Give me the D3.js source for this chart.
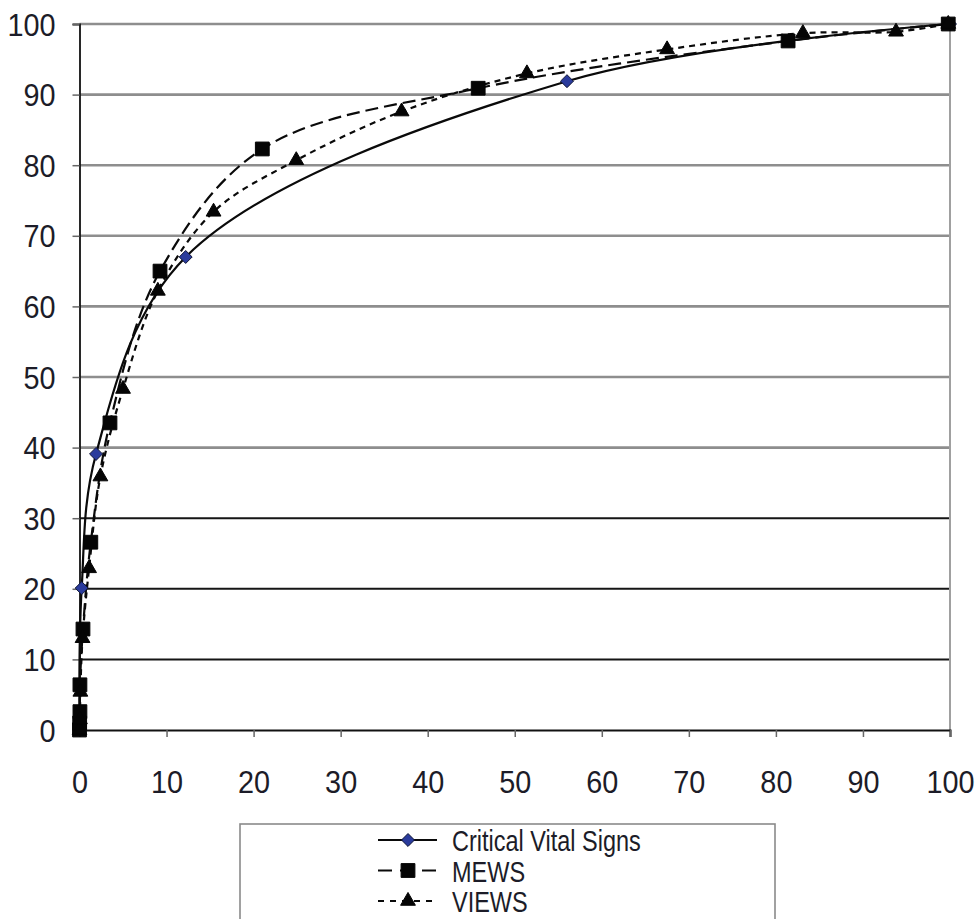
<!DOCTYPE html>
<html>
<head>
<meta charset="utf-8">
<script src="https://cdn.jsdelivr.net/npm/d3@7/dist/d3.min.js"></script>
<style>
  html, body { margin: 0; padding: 0; background: #fff; }
  svg { display: block; }
  text { font-family: "Liberation Sans", Arial, sans-serif; fill: #1c1c28; }
</style>
</head>
<body>
<svg id="chart" width="976" height="919"></svg>
<script>
// Cumulative curves: % of patients (x) vs % of events captured (y)
const cvsX   = [0, 0.25, 1.9, 12.2, 56.0, 100];
const cvsY   = [0, 20.1, 39.1, 67.0, 91.9, 100];

const mewsX  = [0, 0.02, 0.05, 0.05, 0.4, 1.3, 3.5, 9.25, 21.0, 45.8, 81.4, 99.8];
const mewsY  = [0, 1.0, 2.6, 6.4, 14.3, 26.6, 43.5, 65.0, 82.3, 90.9, 97.6, 100];

const viewsX = [0, 0.05, 0.1, 0.35, 1.1, 2.4, 5.0, 9.0, 15.4, 24.9, 37.0, 51.4, 67.5, 83.1, 93.8, 99.8];
const viewsY = [0, 1.5, 5.4, 13.0, 22.9, 35.9, 48.3, 62.2, 73.4, 80.7, 87.6, 93.0, 96.4, 98.7, 98.9, 100];

const xTicks = [0, 10, 20, 30, 40, 50, 60, 70, 80, 90, 100];
const yTicks = [0, 10, 20, 30, 40, 50, 60, 70, 80, 90, 100];

const seriesNames = ["Critical Vital Signs", "MEWS", "VIEWS"];

const svg = d3.select("#chart");
const plotLeft = 79.5, plotRight = 950, plotTop = 24, plotBottom = 730;

const x = d3.scaleLinear().domain([0, 100]).range([plotLeft, plotRight]);
const y = d3.scaleLinear().domain([0, 100]).range([plotBottom, plotTop]);

// horizontal gridlines: upper ones grey, lower ones dark
const grid = svg.append("g");
yTicks.filter(v => v > 0).forEach(v => {
  grid.append("line")
    .attr("x1", plotLeft).attr("x2", plotRight)
    .attr("y1", y(v)).attr("y2", y(v))
    .attr("stroke", v >= 40 ? "#8e8e8e" : "#151515")
    .attr("stroke-width", v >= 40 ? 2.6 : 2);
});

// right border of the plot area
svg.append("line")
  .attr("x1", plotRight).attr("x2", plotRight)
  .attr("y1", plotTop).attr("y2", plotBottom)
  .attr("stroke", "#a0a0a0").attr("stroke-width", 2);

// y axis
const yAxis = svg.append("g")
  .attr("transform", `translate(${plotLeft},0)`)
  .call(d3.axisLeft(y).tickValues(yTicks).tickSize(7).tickFormat(d3.format("d")));
yAxis.select(".domain").attr("stroke", "#111").attr("stroke-width", 1.8);
yAxis.selectAll(".tick line").attr("stroke", "#666").attr("stroke-width", 1.5);
yAxis.selectAll(".tick text")
  .attr("x", null).attr("dy", null)
  .attr("transform", "translate(-24,11) scale(0.93,1)")
  .attr("text-anchor", "end")
  .style("font-size", "31px")
  .style("font-family", "'Liberation Sans', Arial, sans-serif")
  .attr("fill", "#1c1c28");

// x axis
const xAxis = svg.append("g")
  .attr("transform", `translate(0,${plotBottom})`)
  .call(d3.axisBottom(x).tickValues(xTicks).tickSize(7).tickFormat(d3.format("d")));
xAxis.select(".domain").attr("stroke", "#111").attr("stroke-width", 2);
xAxis.selectAll(".tick line").attr("stroke", "#666").attr("stroke-width", 1.5);
xAxis.selectAll(".tick text")
  .attr("y", null).attr("dy", null)
  .attr("transform", "translate(0,63) scale(0.93,1)")
  .attr("text-anchor", "middle")
  .style("font-size", "31px")
  .style("font-family", "'Liberation Sans', Arial, sans-serif")
  .attr("fill", "#1c1c28");

// square-on-point diamond marker
const rhombus = {
  draw(ctx, size) {
    const r = Math.sqrt(size / 2);
    ctx.moveTo(0, -r);
    ctx.lineTo(r, 0);
    ctx.lineTo(0, r);
    ctx.lineTo(-r, 0);
    ctx.closePath();
  }
};

// series definitions
const series = [
  { name: seriesNames[0], xs: cvsX,   ys: cvsY,   dash: null,   symbol: rhombus,           size: 84,  fill: "#2a3b9c", stroke: "#0f1535" },
  { name: seriesNames[1], xs: mewsX,  ys: mewsY,  dash: "13,6", symbol: d3.symbolSquare,   size: 190, fill: "#050505", stroke: "#050505" },
  { name: seriesNames[2], xs: viewsX, ys: viewsY, dash: "6,5",  symbol: d3.symbolTriangle, size: 95,  fill: "#050505", stroke: "#050505" }
];

const line = d3.line()
  .x(d => x(d[0]))
  .y(d => y(d[1]))
  .curve(d3.curveCatmullRom.alpha(0.5));

const plot = svg.append("g");
series.forEach(s => {
  const pts = s.xs.map((v, i) => [v, s.ys[i]]);
  plot.append("path")
    .datum(pts)
    .attr("d", line)
    .attr("fill", "none")
    .attr("stroke", "#0a0a0a")
    .attr("stroke-width", 2.2)
    .attr("stroke-dasharray", s.dash);
});

// markers drawn after all lines, in series order
series.forEach(s => {
  const pts = s.xs.map((v, i) => [v, s.ys[i]]);
  plot.selectAll(null)
    .data(pts)
    .join("path")
    .attr("transform", d => `translate(${x(d[0])},${y(d[1])})`)
    .attr("d", d3.symbol().type(s.symbol).size(s.size))
    .attr("fill", s.fill)
    .attr("stroke", s.stroke)
    .attr("stroke-width", 1);
});

// legend
const lg = svg.append("g");
lg.append("rect")
  .attr("x", 240).attr("y", 824)
  .attr("width", 535).attr("height", 140)
  .attr("fill", "#fff")
  .attr("stroke", "#8a8a8a").attr("stroke-width", 1.6);

const legendDash = [null, "14,8", "6,6"];
series.forEach((s, i) => {
  const base = 851 + i * 30.5;
  const cy = base - 11;
  lg.append("line")
    .attr("x1", 378).attr("x2", 437)
    .attr("y1", cy).attr("y2", cy)
    .attr("stroke", "#0a0a0a").attr("stroke-width", 2.2)
    .attr("stroke-dasharray", legendDash[i]);
  lg.append("path")
    .attr("transform", `translate(408,${cy})`)
    .attr("d", d3.symbol().type(s.symbol).size(s.size))
    .attr("fill", s.fill)
    .attr("stroke", s.stroke)
    .attr("stroke-width", 1);
  lg.append("text")
    .attr("transform", `translate(452,${base}) scale(0.81,1)`)
    .style("font-size", "29px")
    .attr("fill", "#1c1c40")
    .text(s.name);
});
</script>
</body>
</html>
